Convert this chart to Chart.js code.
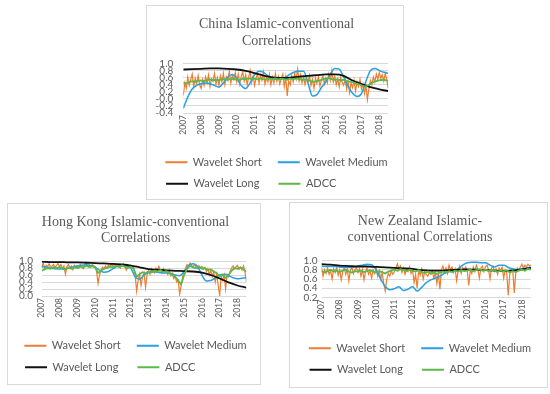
<!DOCTYPE html>
<html>
<head>
<meta charset="utf-8">
<script src="https://cdn.jsdelivr.net/npm/chart.js@4.4.1/dist/chart.umd.min.js"></script>
<style>
  html, body { margin: 0; padding: 0; background: #fff; }
  body { width: 550px; height: 394px; position: relative; overflow: hidden; }
  .box { position: absolute; border: 1px solid #d9d9d9; box-sizing: border-box; background: #fff; }
  canvas { position: absolute; }
</style>
</head>
<body>
<div class="box" style="left:146px;top:5px;width:258px;height:195px"></div>
<div class="box" style="left:7px;top:203px;width:254px;height:182px"></div>
<div class="box" style="left:289px;top:202px;width:259px;height:186px"></div>
<canvas id="chinaChart" width="258" height="195" style="left:146px;top:5px"></canvas>
<canvas id="hkChart" width="254" height="182" style="left:7px;top:203px"></canvas>
<canvas id="nzChart" width="259" height="186" style="left:289px;top:202px"></canvas>
<script>
// sampling: short = monthly, adcc = every 2 months, medium = quarterly, long = half-yearly, all from 2007
const startYear = 2007;
const shortStep = 1 / 12;
const adccStep = 1 / 6;
const mediumStep = 0.25;
const longStep = 0.5;

const yearTicks = [2007, 2008, 2009, 2010, 2011, 2012, 2013, 2014, 2015, 2016, 2017, 2018];
const seriesNames = ["Wavelet Short", "Wavelet Medium", "Wavelet Long", "ADCC"];

// China
const chinaShort = [
  0.10, 0.45, 0.30, 0.62, 0.38, 0.55, 0.70, 0.35, 0.58, 0.42, 0.66, 0.40,
  0.30, 0.55, 0.38, 0.62, 0.45, 0.68, 0.35, 0.57, 0.50, 0.72, 0.42, 0.60,
  0.38, 0.65, 0.48, 0.72, 0.40, 0.62, 0.52, 0.78, 0.45, 0.66, 0.55, 0.74,
  0.48, 0.70, 0.42, 0.62, 0.76, 0.50, 0.68, 0.40, 0.60, 0.80, 0.46, 0.64,
  0.38, 0.58, 0.72, 0.44, 0.66, 0.52, 0.76, 0.42, 0.60, 0.48, 0.70, 0.40,
  0.62, 0.45, 0.72, 0.50, 0.64, 0.42, 0.58, 0.70, 0.35, 0.62, 0.08, 0.50,
  0.40, 0.66, 0.48, 0.72, 0.55, 0.84, 0.50, 0.68, 0.45, 0.62, 0.40, 0.58,
  0.48, 0.66, 0.38, 0.55, 0.30, 0.58, 0.44, 0.62, 0.36, 0.52, 0.66, 0.42,
  0.58, 0.45, 0.70, 0.52, 0.80, 0.48, 0.64, 0.40, 0.56, 0.34, 0.60, 0.46,
  0.38, 0.55, 0.28, 0.50, 0.18, 0.45, 0.32, 0.52, 0.22, 0.48, 0.35, 0.55,
  0.28, 0.42, 0.15, 0.38, -0.02, 0.30, 0.52, 0.40, 0.62, 0.48, 0.70, 0.55,
  0.75, 0.58, 0.68, 0.50, 0.72, 0.55, 0.30
];
const chinaMedium = [
  -0.27, 0.05, 0.28, 0.38, 0.43, 0.45, 0.43, 0.38, 0.33, 0.45, 0.62, 0.69,
  0.58, 0.38, 0.29, 0.45, 0.68, 0.78, 0.75, 0.65, 0.58, 0.55, 0.57, 0.62,
  0.70, 0.76, 0.78, 0.78, 0.45, 0.08, 0.12, 0.32, 0.48, 0.70, 0.86, 0.84,
  0.62, 0.35, 0.16, 0.07, 0.15, 0.50, 0.80, 0.86, 0.80, 0.75, 0.72
];
const chinaLong = [
  0.83, 0.84, 0.85, 0.86, 0.86, 0.85, 0.83, 0.79, 0.73, 0.66, 0.61, 0.59,
  0.60, 0.63, 0.65, 0.67, 0.69, 0.69, 0.65, 0.52, 0.42, 0.33, 0.27, 0.22
];
const chinaAdcc = [
  0.46, 0.44, 0.47, 0.50, 0.48, 0.51, 0.52, 0.50, 0.53, 0.55, 0.52, 0.54,
  0.53, 0.55, 0.56, 0.54, 0.57, 0.55, 0.56, 0.54, 0.57, 0.55, 0.58, 0.56,
  0.57, 0.55, 0.58, 0.56, 0.55, 0.57, 0.56, 0.58, 0.55, 0.57, 0.56, 0.54,
  0.57, 0.55, 0.58, 0.56, 0.54, 0.55, 0.53, 0.50, 0.48, 0.50, 0.52, 0.55,
  0.57, 0.59, 0.56, 0.54, 0.55, 0.52, 0.54, 0.51, 0.49, 0.47, 0.44, 0.42,
  0.38, 0.35, 0.37, 0.42, 0.47, 0.50, 0.52, 0.54, 0.53, 0.51
];

// Hong Kong
const hkShort = [
  0.80, 0.95, 0.78, 0.88, 0.84, 0.92, 0.80, 0.86, 0.90, 0.82, 0.87, 0.93,
  0.84, 0.90, 0.78, 0.86, 0.62, 0.84, 0.90, 0.80, 0.86, 0.75, 0.88, 0.82,
  0.86, 0.80, 0.90, 0.84, 0.78, 0.88, 0.92, 0.85, 0.89, 0.83, 0.90, 0.86,
  0.84, 0.70, 0.36, 0.60, 0.74, 0.82, 0.78, 0.86, 0.80, 0.88, 0.84, 0.90,
  0.86, 0.92, 0.84, 0.90, 0.87, 0.80, 0.88, 0.92, 0.84, 0.74, 0.86, 0.82,
  0.88, 0.84, 0.80, 0.60, 0.14, 0.45, 0.62, 0.30, 0.55, 0.66, 0.25, 0.60,
  0.72, 0.62, 0.78, 0.70, 0.66, 0.80, 0.72, 0.85, 0.74, 0.66, 0.78, 0.70,
  0.72, 0.62, 0.74, 0.58, 0.66, 0.50, 0.56, 0.40, 0.45, 0.05, 0.30, 0.55,
  0.68, 0.80, 0.90, 0.86, 0.94, 0.88, 0.82, 0.90, 0.84, 0.78, 0.86, 0.80,
  0.84, 0.76, 0.82, 0.70, 0.78, 0.60, 0.74, 0.55, 0.68, 0.40, 0.62, 0.30,
  0.02, 0.55, 0.45, 0.60, 0.20, 0.62, 0.55, 0.70, 0.80, 0.86, 0.78, 0.84,
  0.88, 0.76, 0.82, 0.74, 0.86, 0.70, 0.40
];
const hkMedium = [
  0.84, 0.83, 0.80, 0.78, 0.77, 0.78, 0.80, 0.83, 0.86, 0.88, 0.89, 0.87,
  0.82, 0.74, 0.68, 0.70, 0.78, 0.85, 0.87, 0.86, 0.80, 0.55, 0.48, 0.60,
  0.67, 0.69, 0.68, 0.66, 0.66, 0.64, 0.60, 0.58, 0.70, 0.86, 0.92, 0.85,
  0.60, 0.43, 0.44, 0.52, 0.60, 0.62, 0.58, 0.52, 0.49, 0.51, 0.53
];
const hkLong = [
  0.98, 0.97, 0.97, 0.96, 0.96, 0.95, 0.94, 0.93, 0.92, 0.90, 0.87, 0.82,
  0.77, 0.75, 0.73, 0.72, 0.71, 0.70, 0.67, 0.60, 0.50, 0.39, 0.30, 0.24
];
const hkAdcc = [
  0.72, 0.76, 0.80, 0.78, 0.82, 0.80, 0.83, 0.79, 0.76, 0.81, 0.78, 0.82,
  0.80, 0.84, 0.82, 0.86, 0.83, 0.85, 0.82, 0.66, 0.72, 0.78, 0.80, 0.84,
  0.82, 0.86, 0.83, 0.87, 0.84, 0.80, 0.83, 0.78, 0.55, 0.62, 0.68, 0.65,
  0.70, 0.67, 0.72, 0.70, 0.74, 0.68, 0.71, 0.66, 0.60, 0.55, 0.45, 0.33,
  0.60, 0.78, 0.86, 0.82, 0.80, 0.84, 0.78, 0.80, 0.74, 0.76, 0.70, 0.65,
  0.56, 0.60, 0.52, 0.60, 0.72, 0.80, 0.78, 0.82, 0.76, 0.70
];

// New Zealand
const nzShort = [
  0.86, 0.66, 0.80, 0.72, 0.84, 0.70, 0.78, 0.60, 0.82, 0.74, 0.86, 0.68,
  0.80, 0.58, 0.76, 0.84, 0.70, 0.82, 0.56, 0.78, 0.86, 0.72, 0.80, 0.84,
  0.74, 0.82, 0.66, 0.80, 0.58, 0.76, 0.84, 0.70, 0.78, 0.62, 0.80, 0.72,
  0.84, 0.66, 0.78, 0.60, 0.74, 0.50, 0.34, 0.60, 0.72, 0.66, 0.78, 0.70,
  0.76, 0.84, 0.93, 0.80, 0.88, 0.74, 0.84, 0.70, 0.80, 0.76, 0.86, 0.72,
  0.80, 0.52, 0.70, 0.40, 0.78, 0.68, 0.82, 0.60, 0.76, 0.70, 0.66, 0.74,
  0.70, 0.78, 0.62, 0.74, 0.50, 0.72, 0.38, 0.80, 0.88, 0.76, 0.84, 0.72,
  0.90, 0.80, 0.86, 0.74, 0.82, 0.56, 0.78, 0.88, 0.72, 0.84, 0.80, 0.86,
  0.78, 0.46, 0.80, 0.72, 0.86, 0.76, 0.90, 0.80, 0.62, 0.84, 0.88, 0.76,
  0.86, 0.90, 0.80, 0.60, 0.84, 0.88, 0.76, 0.82, 0.70, 0.84, 0.78, 0.86,
  0.62, 0.80, 0.74, 0.25, 0.70, 0.82, 0.78, 0.30, 0.76, 0.84, 0.80, 0.86,
  0.92, 0.84, 0.90, 0.86, 0.92, 0.88, 0.90
];
const nzMedium = [
  0.88, 0.87, 0.87, 0.87, 0.86, 0.85, 0.85, 0.86, 0.88, 0.90, 0.92, 0.91,
  0.80, 0.60, 0.44, 0.37, 0.39, 0.43, 0.35, 0.38, 0.43, 0.34, 0.42, 0.52,
  0.58, 0.62, 0.66, 0.72, 0.76, 0.78, 0.82, 0.90, 0.95, 0.96, 0.96, 0.95,
  0.95, 0.90, 0.86, 0.90, 0.90, 0.85, 0.82, 0.80, 0.82, 0.84, 0.85
];
const nzLong = [
  0.92, 0.91, 0.89, 0.88, 0.87, 0.87, 0.86, 0.85, 0.84, 0.83, 0.82, 0.79,
  0.78, 0.78, 0.79, 0.80, 0.81, 0.80, 0.79, 0.78, 0.77, 0.78, 0.81, 0.84
];
const nzAdcc = [
  0.78, 0.74, 0.77, 0.80, 0.76, 0.78, 0.75, 0.78, 0.80, 0.76, 0.74, 0.77,
  0.76, 0.78, 0.75, 0.77, 0.79, 0.76, 0.74, 0.77, 0.75, 0.72, 0.76, 0.78,
  0.80, 0.78, 0.81, 0.79, 0.77, 0.80, 0.78, 0.76, 0.79, 0.75, 0.73, 0.76,
  0.72, 0.74, 0.71, 0.74, 0.76, 0.74, 0.77, 0.75, 0.78, 0.76, 0.79, 0.77,
  0.78, 0.80, 0.77, 0.79, 0.81, 0.78, 0.80, 0.77, 0.79, 0.78, 0.76, 0.78,
  0.76, 0.79, 0.74, 0.77, 0.75, 0.78, 0.80, 0.78, 0.82, 0.80
];

const colors = { short: "#ED7D31", medium: "#28A0E4", long: "#111111", adcc: "#5DB84A" };
const textGray = "#595959";
const legendFont = { family: "Lato", size: 11 };

Chart.defaults.font.family = "Lato";
Chart.defaults.color = textGray;

function toPoints(values, step) {
  return values.map((v, i) => ({ x: startYear + i * step, y: v }));
}

// pad legend texts with spaces so the two rows line up in two columns
function columnLabels(chart) {
  const items = Chart.defaults.plugins.legend.labels.generateLabels(chart);
  const ctx = chart.ctx;
  ctx.save();
  ctx.font = legendFont.size + "px " + legendFont.family;
  const w = (s) => ctx.measureText(s).width;
  const col1 = Math.max(w(seriesNames[0]), w(seriesNames[2])) + 6.5;
  const col2 = Math.max(w(seriesNames[1]), w(seriesNames[3]));
  items.forEach((it) => {
    const target = it.datasetIndex % 2 === 0 ? col1 : col2;
    let t = seriesNames[it.datasetIndex];
    while (w(t + " ") <= target + 1) t += " ";
    it.text = t;
    it.lineWidth = 0;
  });
  ctx.restore();
  return items;
}

function makeChart(id, opt) {
  const ds = (i, values, step, color, width, smooth, order) => ({
    label: seriesNames[i],
    data: toPoints(values, step),
    borderColor: color,
    backgroundColor: color,
    borderWidth: width,
    pointRadius: 0,
    tension: 0,
    cubicInterpolationMode: smooth ? "monotone" : "default",
    order,
  });
  return new Chart(document.getElementById(id), {
    type: "line",
    data: {
      datasets: [
        ds(0, opt.short, shortStep, colors.short, 1.2, false, 4),
        ds(1, opt.medium, mediumStep, colors.medium, 1.5, true, 3),
        ds(2, opt.long, longStep, colors.long, 1.8, true, 2),
        ds(3, opt.adcc, adccStep, colors.adcc, 1.8, false, 1),
      ],
    },
    options: {
      responsive: false,
      animation: false,
      layout: { padding: { left: 3, right: 0, top: 0, bottom: opt.padBottom } },
      plugins: {
        tooltip: { enabled: false },
        title: {
          display: true,
          text: opt.title,
          color: textGray,
          font: { family: "Liberation Serif", size: 14, weight: "normal", lineHeight: 1.15 },
          padding: { top: opt.titleTop, bottom: opt.titleBottom },
        },
        legend: {
          position: "bottom",
          align: "center",
          labels: {
            boxWidth: 22,
            boxHeight: 2,
            padding: 10.5,
            color: textGray,
            font: legendFont,
            sort: (a, b) => a.datasetIndex - b.datasetIndex,
            generateLabels: columnLabels,
          },
        },
      },
      scales: {
        x: {
          type: "linear",
          min: 2007,
          max: 2018.5,
          grid: { display: false, drawTicks: false },
          border: { display: false },
          afterBuildTicks: (s) => { s.ticks = yearTicks.map((v) => ({ value: v })); },
          afterFit: (s) => { s.height = opt.xHeight; },
          ticks: {
            autoSkip: false,
            minRotation: 90,
            maxRotation: 90,
            padding: 2,
            font: { size: 8.5 },
            callback: (v) => String(v),
          },
        },
        y: {
          min: opt.yMin,
          max: 1.0,
          grid: { color: "#d9d9d9", drawTicks: false },
          border: { display: false },
          afterFit: (s) => { s.width = opt.yWidth; },
          ticks: {
            stepSize: 0.2,
            autoSkip: false,
            padding: opt.yPad,
            font: { size: 10 },
            callback: (v) => Number(v).toFixed(1),
          },
        },
        // empty right-hand spacer so the plot ends where the original does
        spacer: {
          position: "right",
          grid: { display: false },
          border: { display: false },
          ticks: { display: false },
          afterFit: (s) => { s.width = opt.rightGap; },
        },
      },
    },
  });
}

makeChart("chinaChart", {
  title: ["China Islamic-conventional", "Correlations"],
  short: chinaShort, medium: chinaMedium, long: chinaLong, adcc: chinaAdcc,
  yMin: -0.4, padBottom: 0.7,
  titleTop: 11.7, titleBottom: 14.6,
  yWidth: 34.3, yPad: 10, rightGap: 15.8, xHeight: 33.3,
});

makeChart("hkChart", {
  title: ["Hong Kong Islamic-conventional", "Correlations"],
  short: hkShort, medium: hkMedium, long: hkLong, adcc: hkAdcc,
  yMin: 0, padBottom: 2.3,
  titleTop: 11.4, titleBottom: 14.4,
  yWidth: 31.7, yPad: 8.7, rightGap: 14.6, xHeight: 33.7,
});

makeChart("nzChart", {
  title: ["New Zealand Islamic-", "conventional Correlations"],
  short: nzShort, medium: nzMedium, long: nzLong, adcc: nzAdcc,
  yMin: 0.2, padBottom: 2.7,
  titleTop: 11.4, titleBottom: 14.9,
  yWidth: 29.5, yPad: 4, rightGap: 17, xHeight: 34.8,
});
</script>
</body>
</html>
